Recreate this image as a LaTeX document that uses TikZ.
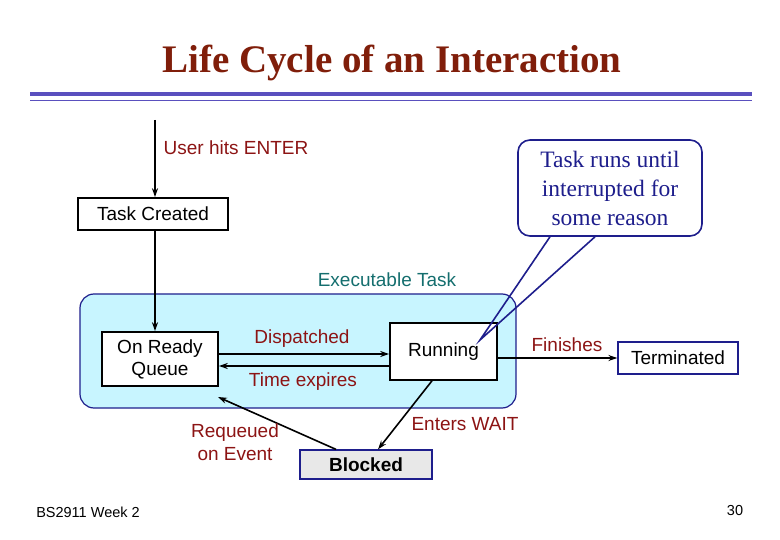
\documentclass[tikz,border=0pt]{standalone}
\usepackage{fontspec}
\setmainfont{Liberation Serif}
\newfontfamily\arial{Liberation Sans}
\usetikzlibrary{arrows.meta,calc}
\definecolor{lblred}{RGB}{140,20,20}
\definecolor{titlered}{RGB}{128,30,10}
\definecolor{navy}{RGB}{30,30,140}
\definecolor{barpurple}{RGB}{90,80,190}
\definecolor{execteal}{RGB}{20,110,110}
\definecolor{execfill}{RGB}{200,245,255}
\tikzset{
  state/.style={draw, line width=1.6pt, fill=white, font=\arial\fontsize{19}{22}\selectfont, align=center, inner sep=0pt},
  lbl/.style={text=lblred, font=\arial\fontsize{19}{23}\selectfont, align=center},
  edge/.style={draw, line width=1.6pt, -{Stealth[length=9pt,width=6pt]}}
}
\begin{document}
\begin{tikzpicture}[x=1pt,y=-1pt]
\useasboundingbox (0,0) rectangle (780,540);
\node[text=titlered, font=\fontsize{39}{44}\selectfont\bfseries] (title) at (392,63) {Life Cycle of an Interaction};
\draw[barpurple, line width=4pt] (30,94) -- (752,94);
\draw[barpurple, line width=1.5pt] (30,100.5) -- (752,100.5);

\draw[execfill, fill=execfill, rounded corners=14pt, draw=navy, line width=1.2pt] (80,294) rectangle (516,408);
\node[text=execteal, font=\arial\fontsize{19}{22}\selectfont] (exec) at (387,280) {Executable Task};

\coordinate (start) at (155,120);
\node[state, minimum width=150, minimum height=32] (created) at (153,214) {Task Created};
\node[state, minimum width=116, minimum height=54] (ready) at (160,359) {On Ready\\Queue};
\node[state, minimum width=107, minimum height=57] (running) at (443.5,351.5) {Running};
\node[state, draw=navy, line width=1.2pt, minimum width=120, minimum height=32] (term) at (678,358) {Terminated};
\node[state, draw=navy, line width=1.2pt, fill=gray!18, font=\arial\bfseries\fontsize{19}{22}\selectfont, minimum width=132, minimum height=29] (blocked) at (366,464.5) {Blocked};

\path[edge] (start) -- (created.north -| start);
\path[edge] (created.south -| start) -- (ready.north -| start);
\path[edge] (ready.east |- 0,354) -- (running.west |- 0,354);
\path[edge] (running.west |- 0,366) -- (ready.east |- 0,366);
\path[edge] (running.east |- 0,358) -- (term.west);
\path[edge] (running.south -| 432,0) -- (blocked.north -| 378,0);
\path[edge] (blocked.north -| 336,0) -- (218,397);

\node[lbl] (hits) at (236,148) {User hits ENTER};
\node[lbl] (disp) at (302,339) {Dispatched};
\node[lbl] (expire) at (303,382) {Time expires};
\node[lbl] (fin) at (567,345) {Finishes};
\node[lbl] (wait) at (465,424) {Enters WAIT};
\node[lbl] (requeue) at (235,442) {Requeued\\on Event};

\node[draw=navy, line width=1.6pt, rounded corners=12pt, fill=white, text=navy, align=center, font=\fontsize{23.5}{29}\selectfont, minimum width=184, minimum height=96] (note) at (610,188) {Task runs until\\interrupted for\\some reason};
\coordinate (tip) at (480,340);
\draw[navy, line width=1.6pt] ($(note.south)+(-60,0)$) -- (tip) -- ($(note.south)+(-15,0)$);

\node[font=\arial\fontsize{14.5}{17}\selectfont] (footer) at (88,512) {BS2911 Week 2};
\node[font=\arial\fontsize{14.5}{17}\selectfont] (page) at (735,511) {30};
\end{tikzpicture}
\end{document}
